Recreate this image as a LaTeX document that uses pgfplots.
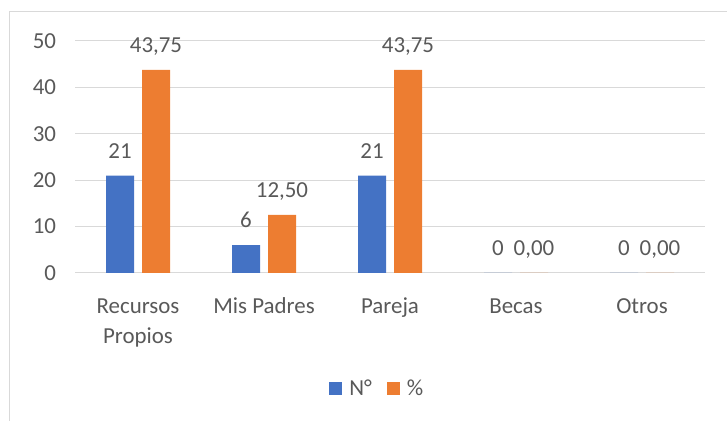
\documentclass[border=0pt]{standalone}
\usepackage{pgfplots}
\pgfplotsset{compat=1.18}
\usepackage{pgfplotstable}
\usepackage{fontspec}
\setmainfont{Carlito}
\definecolor{cblue}{HTML}{4472C4}
\definecolor{corange}{HTML}{ED7D31}
\definecolor{ctext}{HTML}{595959}
\definecolor{cgrid}{HTML}{D9D9D9}

\pgfplotstableread{
x y label
0 21 21
1 6 6
2 21 21
3 0 0
4 0 0
}\numtable
\pgfplotstableread{
x y label
0 43.75 43,75
1 12.50 12,50
2 43.75 43,75
3 0 0,00
4 0 0,00
}\pcttable

\newcommand{\chartfont}{\fontsize{23}{30}\selectfont}

\begin{document}
\begin{tikzpicture}
\begin{axis}[
  scale only axis, width=630bp, height=232bp,
  xmin=-0.5, xmax=4.5, ymin=0, ymax=50,
  ybar=8bp, bar width=28bp,
  xtick={0,1,2,3,4},
  xticklabels={{\strut Recursos\\Propios},{\strut Mis Padres},{\strut Pareja},{\strut Becas},{\strut Otros}},
  ytick={0,10,20,30,40,50},
  major tick length=0pt,
  axis line style={draw=none},
  ymajorgrids, grid style={cgrid, line width=1bp},
  /pgf/number format/assume math mode=true,
  tick label style={font=\chartfont, text=ctext},
  xticklabel style={align=center, anchor=north, yshift=-16bp},
  yticklabel style={anchor=east, xshift=-15.5bp},
  nodes near coords,
  point meta=explicit symbolic,
  every node near coord/.append style={font=\chartfont, text=ctext, anchor=base, yshift=17.5bp},
  legend style={at={(0.480,-0.496)}, anchor=center, draw=none, fill=none,
    legend columns=2, font=\chartfont, text=ctext,
    /tikz/every odd column/.append style={column sep=5bp},
    /tikz/every even column/.append style={column sep=13bp}},
  legend image code/.code={\path[#1] (0bp,-6.5bp) rectangle (13bp,6.5bp);},
  clip=false,
]
\addplot[fill=cblue, draw=none] table[x=x, y=y, meta=label] {\numtable};
\addplot[fill=corange, draw=none] table[x=x, y=y, meta=label] {\pcttable};
\legend{N°, \%}
\end{axis}
\draw[cgrid, line width=1bp] ([xshift=-65bp,yshift=-150bp]current axis.south west) -- ([xshift=-65bp,yshift=29bp]current axis.north west) -- ([xshift=30bp,yshift=29bp]current axis.north east);
\pgfresetboundingbox
\path ([xshift=-75bp,yshift=-148bp]current axis.south west) rectangle ([xshift=22bp,yshift=41bp]current axis.north east);
\end{tikzpicture}
\end{document}
